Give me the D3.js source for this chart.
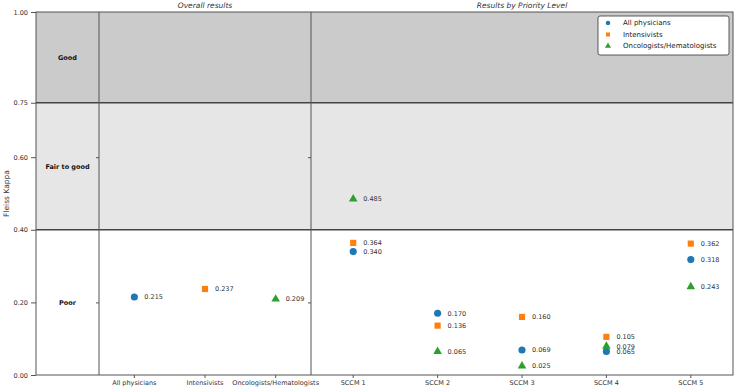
<!DOCTYPE html>
<html>
<head>
<meta charset="utf-8">
<script src="https://cdn.jsdelivr.net/npm/d3@7"></script>
<style>
  body { margin: 0; background: #fff; }
  text { font-family: "DejaVu Sans", sans-serif; }
</style>
</head>
<body>
<div id="chart"></div>
<script>
var width = 736;
var height = 389;

// panel edges (window.top is taken, so these get a prefix)
var plotLeft = 36, labelRight = 99, midLine = 311, plotRight = 733;
var plotTop = 12, plotBottom = 375;

// data
var groups = ["All physicians", "Intensivists", "Oncologists/Hematologists"];
var overallValues = [0.215, 0.237, 0.209];
var levels = ["SCCM 1", "SCCM 2", "SCCM 3", "SCCM 4", "SCCM 5"];
var allPhysicians = [0.340, 0.170, 0.069, 0.065, 0.318];
var intensivists = [0.364, 0.136, 0.160, 0.105, 0.362];
var oncologists = [0.485, 0.065, 0.025, 0.079, 0.243];
var yTicks = [0, 0.2, 0.4, 0.6, 0.75, 1];
var zoneNames = ["Good", "Fair to good", "Poor"];
var zoneFrom = [0.75, 0.40, 0];
var zoneTo = [1, 0.75, 0.40];
var zoneLabelAt = [0.875, 0.575, 0.20];
var zoneFill = ["#cbcbcb", "#e6e6e6", "#ffffff"];

var colors = ["#1f77b4", "#ff7f0e", "#2ca02c"];
var shapes = [d3.symbolCircle, d3.symbolSquare, d3.symbolTriangle];
var sizes = [40, 38, 32];

var svg = d3.select("#chart")
	.append("svg")
	.attr("width", width)
	.attr("height", height);

var y = d3.scaleLinear().domain([0, 1]).range([plotBottom, plotTop]);
var xOverall = d3.scaleBand().domain(groups).range([labelRight, midLine]);
var xLevel = d3.scaleBand().domain(levels).range([midLine, plotRight]);

// background zones
svg.selectAll(".zone")
	.data(zoneNames)
	.enter()
	.append("rect")
	.attr("x", plotLeft)
	.attr("width", plotRight - plotLeft)
	.attr("y", function(d, i){ return y(zoneTo[i]); })
	.attr("height", function(d, i){ return y(zoneFrom[i]) - y(zoneTo[i]); })
	.attr("fill", function(d, i){ return zoneFill[i]; });

// zone borders
svg.selectAll(".zline")
	.data([0.75, 0.40])
	.enter()
	.append("line")
	.attr("x1", plotLeft)
	.attr("x2", plotRight)
	.attr("y1", function(d){ return y(d); })
	.attr("y2", function(d){ return y(d); })
	.attr("stroke", "#444")
	.attr("stroke-width", 1.6);

svg.append("rect")
	.attr("x", plotLeft)
	.attr("y", plotTop)
	.attr("width", plotRight - plotLeft)
	.attr("height", plotBottom - plotTop)
	.attr("fill", "none")
	.attr("stroke", "#555")
	.attr("stroke-width", 1);

[labelRight, midLine].forEach(function(xp){
	svg.append("line")
		.attr("x1", xp).attr("x2", xp)
		.attr("y1", plotTop).attr("y2", plotBottom)
		.attr("stroke", "#555")
		.attr("stroke-width", 1);
	// small ticks of the inner panels
	var g = svg.append("g")
		.attr("transform", "translate(" + xp + ",0)")
		.call(d3.axisLeft(y).tickValues([0.2, 0.6]).tickFormat("").tickSize(3));
	g.select(".domain").remove();
	g.selectAll("line").attr("stroke", "#555");
});

// zone names
svg.selectAll(".zname")
	.data(zoneNames)
	.enter()
	.append("text")
	.attr("x", (plotLeft + labelRight) / 2)
	.attr("y", function(d, i){ return y(zoneLabelAt[i]); })
	.attr("dy", "0.35em")
	.attr("text-anchor", "middle")
	.attr("font-size", 6.5)
	.attr("font-weight", "bold")
	.attr("fill", "#111")
	.text(function(d){ return d; });

// axes
var yAxis = svg.append("g")
	.attr("transform", "translate(" + plotLeft + ",0)")
	.call(d3.axisLeft(y).tickValues(yTicks).tickFormat(d3.format(".2f")).tickSize(5).tickPadding(3));
yAxis.select(".domain").remove();

var xa1 = svg.append("g")
	.attr("transform", "translate(0," + plotBottom + ")")
	.call(d3.axisBottom(xOverall).tickSize(3).tickPadding(2));
var xa2 = svg.append("g")
	.attr("transform", "translate(0," + plotBottom + ")")
	.call(d3.axisBottom(xLevel).tickSize(3).tickPadding(2));
[yAxis, xa1, xa2].forEach(function(g){
	g.select(".domain").remove();
	g.selectAll("line").attr("stroke", "#555");
	g.selectAll("text")
		.attr("font-family", "DejaVu Sans, sans-serif")
		.attr("font-size", 6.5)
		.attr("fill", "#333");
});

svg.append("text")
	.attr("transform", "translate(9," + (plotTop + plotBottom) / 2 + ") rotate(-90)")
	.attr("text-anchor", "middle")
	.attr("font-size", 7.5)
	.attr("fill", "#333")
	.text("Fleiss Kappa");

// panel titles
svg.append("text")
	.attr("x", (labelRight + midLine) / 2)
	.attr("y", 8)
	.attr("text-anchor", "middle")
	.attr("font-size", 7.5)
	.attr("font-style", "italic")
	.attr("fill", "#333")
	.text("Overall results");

svg.append("text")
	.attr("x", (midLine + plotRight) / 2)
	.attr("y", 8)
	.attr("text-anchor", "middle")
	.attr("font-size", 7.5)
	.attr("font-style", "italic")
	.attr("fill", "#333")
	.text("Results by Priority Level");

// points
var points = [];
groups.forEach(function(g, i){
	points.push({ s: i, x: xOverall(g) + xOverall.bandwidth() / 2, v: overallValues[i] });
});
[allPhysicians, intensivists, oncologists].forEach(function(vals, s){
	vals.forEach(function(v, j){
		points.push({ s: s, x: xLevel(levels[j]) + xLevel.bandwidth() / 2, v: v });
	});
});

svg.selectAll(".pt")
	.data(points)
	.enter()
	.append("path")
	.attr("class", "pt")
	.attr("d", function(d){ return d3.symbol().type(shapes[d.s]).size(sizes[d.s])(); })
	.attr("transform", function(d){ return "translate(" + d.x + "," + y(d.v) + ")"; })
	.attr("fill", function(d){ return colors[d.s]; });

svg.selectAll(".lbl")
	.data(points)
	.enter()
	.append("text")
	.attr("x", function(d){ return d.x + 10; })
	.attr("y", function(d){ return y(d.v); })
	.attr("dy", "0.35em")
	.attr("font-size", 6.5)
	.attr("fill", "#333")
	.text(function(d){ return d3.format(".3f")(d.v); });

// legend
var legend = svg.append("g").attr("transform", "translate(598,16)");
legend.append("rect")
	.attr("width", 131)
	.attr("height", 39)
	.attr("rx", 2)
	.attr("fill", "#fff")
	.attr("stroke", "#333")
	.attr("stroke-width", 0.8);
groups.forEach(function(g, i){
	legend.append("path")
		.attr("d", d3.symbol().type(shapes[i]).size(16)())
		.attr("transform", "translate(10," + (7 + i * 11.5) + ")")
		.attr("fill", colors[i]);
	legend.append("text")
		.attr("x", 25)
		.attr("y", 7 + i * 11.5)
		.attr("dy", "0.35em")
		.attr("font-size", 7)
		.attr("fill", "#222")
		.text(g);
});
</script>
</body>
</html>
